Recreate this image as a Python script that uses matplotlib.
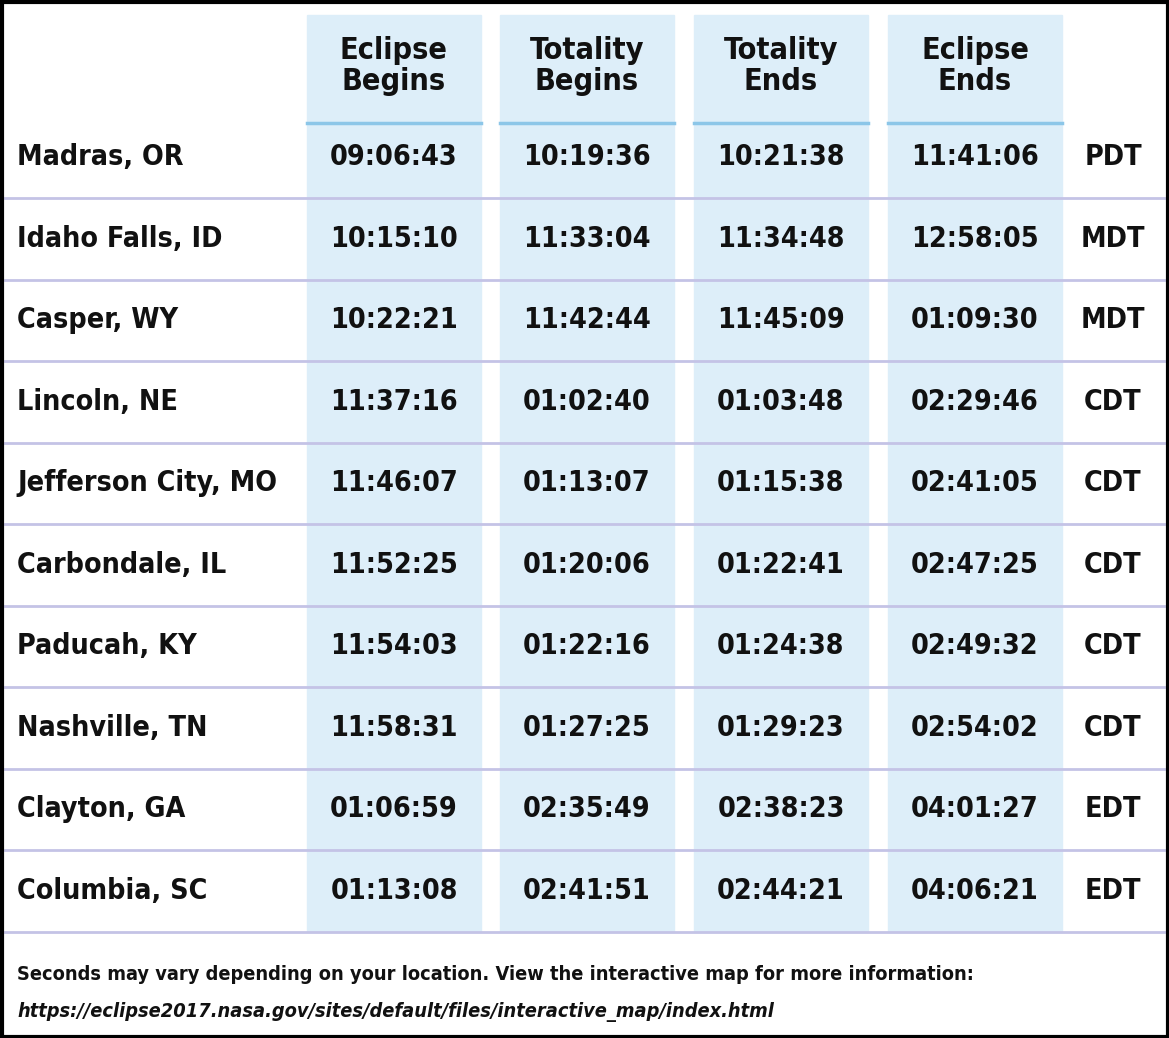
import matplotlib
matplotlib.use("Agg")
import matplotlib.pyplot as plt
from matplotlib.patches import Rectangle

cities = ["Madras, OR", "Idaho Falls, ID", "Casper, WY", "Lincoln, NE",
          "Jefferson City, MO", "Carbondale, IL", "Paducah, KY",
          "Nashville, TN", "Clayton, GA", "Columbia, SC"]
headers = ["Eclipse\nBegins", "Totality\nBegins", "Totality\nEnds", "Eclipse\nEnds"]
eclipse_begins = ["09:06:43", "10:15:10", "10:22:21", "11:37:16", "11:46:07",
                  "11:52:25", "11:54:03", "11:58:31", "01:06:59", "01:13:08"]
totality_begins = ["10:19:36", "11:33:04", "11:42:44", "01:02:40", "01:13:07",
                   "01:20:06", "01:22:16", "01:27:25", "02:35:49", "02:41:51"]
totality_ends = ["10:21:38", "11:34:48", "11:45:09", "01:03:48", "01:15:38",
                 "01:22:41", "01:24:38", "01:29:23", "02:38:23", "02:44:21"]
eclipse_ends = ["11:41:06", "12:58:05", "01:09:30", "02:29:46", "02:41:05",
                "02:47:25", "02:49:32", "02:54:02", "04:01:27", "04:06:21"]
zones = ["PDT", "MDT", "MDT", "CDT", "CDT", "CDT", "CDT", "CDT", "EDT", "EDT"]
footer = ["Seconds may vary depending on your location. View the interactive map for more information:",
          "https://eclipse2017.nasa.gov/sites/default/files/interactive_map/index.html"]

FONT = "DejaVu Sans"
STRETCH = "condensed"
W, H = 1169, 1038
fig = plt.figure(figsize=(W / 100, H / 100), dpi=100)
ax = fig.add_axes([0, 0, 1, 1])
ax.set_xlim(0, W)
ax.set_ylim(H, 0)
ax.axis("off")

col_left = [307, 500, 694, 888]
col_w = 174
top, head_bot = 15, 123
row_h = 81.5
first_sep = 198
n = len(cities)
bottom = first_sep + row_h * (n - 1)

kw = dict(fontfamily=FONT, fontweight="bold", fontstretch=STRETCH, color="#111111")

for x in col_left:
    ax.add_patch(Rectangle((x, top), col_w, bottom - top, color="#ddeef9", zorder=0))
    ax.plot([x, x + col_w], [head_bot, head_bot], color="#8cc6e8", lw=2.5, zorder=2)

for i in range(n):
    y = first_sep + row_h * i
    ax.plot([5, W - 5], [y, y], color="#c4c3e6", lw=2, zorder=1)

for x, h in zip(col_left, headers):
    ax.text(x + col_w / 2, 66, h, ha="center", va="center", fontsize=22,
            linespacing=1.1, **kw)

cols = [eclipse_begins, totality_begins, totality_ends, eclipse_ends]
for i in range(n):
    yc = first_sep - row_h / 2 + row_h * i
    ax.text(17, yc, cities[i], ha="left", va="center", fontsize=20.5, **kw)
    for x, c in zip(col_left, cols):
        ax.text(x + col_w / 2, yc, c[i], ha="center", va="center", fontsize=20.5, **kw)
    ax.text(1113, yc, zones[i], ha="center", va="center", fontsize=20.5, **kw)

ax.text(17, 974, footer[0], ha="left", va="center", fontsize=14.3, **kw)
ax.text(17, 1012, footer[1], ha="left", va="center", fontsize=14.3,
        fontstyle="italic", **kw)

ax.add_patch(Rectangle((1.5, 1.5), W - 3, H - 3, fill=False, ec="black", lw=3, zorder=5))

fig.savefig("out.png", dpi=100)
